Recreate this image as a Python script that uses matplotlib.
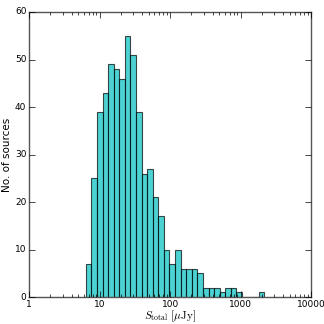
import matplotlib
matplotlib.use('Agg')
import matplotlib.pyplot as plt
import numpy as np
from matplotlib.ticker import FuncFormatter, LogLocator

# bin counts, log-spaced bins
counts = [7, 25, 39, 43, 49, 48, 46, 55, 51, 39, 26, 27, 21, 17, 10, 7,
          10, 6, 6, 6, 5, 2, 2, 2, 1, 2, 2, 1, 0, 0, 0, 1]
log_lo = 0.805
log_hi = 3.336
edges = np.logspace(log_lo, log_hi, len(counts) + 1)
centres = np.sqrt(edges[:-1] * edges[1:])

plt.style.use('classic')
plt.rcParams['mathtext.fontset'] = 'cm'

fig = plt.figure(figsize=(3.24, 3.24), dpi=100)
ax = fig.add_axes([0.09, 0.083, 0.87, 0.88])

ax.hist(centres, bins=edges, weights=counts, color='c', alpha=0.7,
        edgecolor='k', linewidth=0.8)

ax.set_xscale('log')
ax.set_xlim(1, 10000)
ax.set_ylim(0, 60)
ax.set_yticks(np.arange(0, 61, 10))
ax.xaxis.set_major_locator(LogLocator(base=10))
ax.xaxis.set_major_formatter(FuncFormatter(lambda v, p: '%d' % v))

ax.tick_params(labelsize=6.5, pad=2)
for s in ax.spines.values():
    s.set_edgecolor('#555555')

ax.set_xlabel(r'$S_{\rm total}\ [\mu{\rm Jy}]$', fontsize=8, labelpad=0)
ax.set_ylabel('No. of sources', fontsize=7.5, labelpad=2)

fig.savefig('out.png', dpi=100, facecolor='white')
